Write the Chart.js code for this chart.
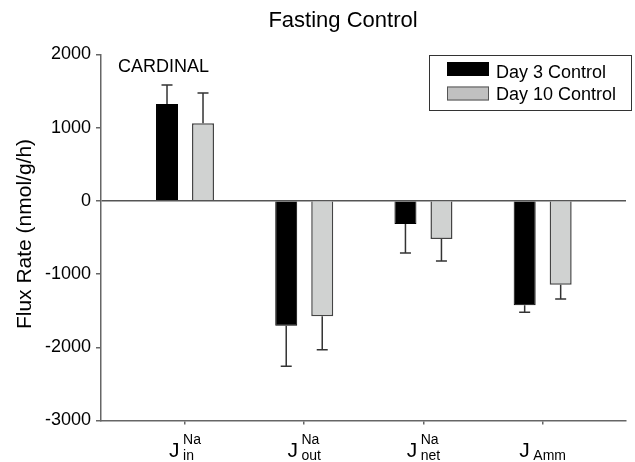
<!DOCTYPE html>
<html>
<head>
<meta charset="utf-8">
<script src="https://cdn.jsdelivr.net/npm/chart.js@4/dist/chart.umd.min.js"></script>
<style>
  html, body { margin: 0; padding: 0; background: #fff; }
  #wrap { width: 635px; height: 462px; }
</style>
</head>
<body>
<div id="wrap"><canvas id="c" width="635" height="462"></canvas></div>
<script>
// ---- data ----
const categoryPos = [1, 2, 3, 4];
const labelMain = ['J', 'J', 'J', 'J'];
const labelSup = ['Na', 'Na', 'Na', ''];
const labelSub = ['in', 'out', 'net', 'Amm'];
const seriesNames = ['Day 3 Control', 'Day 10 Control'];
const day3 = [1320, -1705, -318, -1428];
const day3Err = [260, 555, 395, 95];
const day10 = [1060, -1578, -522, -1146];
const day10Err = [410, 455, 300, 195];
const yTicks = [-3000, -2000, -1000, 0, 1000, 2000];
const titleText = 'Fasting Control';
const yTitle = 'Flux Rate (nmol/g/h)';
const noteText = 'CARDINAL';

const FONT = '"Liberation Sans", Arial, Helvetica, sans-serif';
const errs = [day3Err, day10Err];

const decor = {
  id: 'decor',
  afterDatasetsDraw(chart) {
    const ctx = chart.ctx;
    const y = chart.scales.y;
    ctx.save();
    ctx.strokeStyle = '#333';
    ctx.lineWidth = 1.5;
    chart.data.datasets.forEach((ds, di) => {
      const meta = chart.getDatasetMeta(di);
      meta.data.forEach((bar, i) => {
        const v = ds.data[i].y;
        const e = errs[di][i];
        const end = v >= 0 ? v + e : v - e;
        const y0 = y.getPixelForValue(v);
        const y1 = y.getPixelForValue(end);
        ctx.beginPath();
        ctx.moveTo(bar.x, y0);
        ctx.lineTo(bar.x, y1);
        ctx.moveTo(bar.x - 5.5, y1);
        ctx.lineTo(bar.x + 5.5, y1);
        ctx.stroke();
      });
    });
    ctx.restore();
  },
  afterDraw(chart) {
    const ctx = chart.ctx;
    const x = chart.scales.x;
    ctx.save();
    ctx.fillStyle = '#000';
    // title
    ctx.font = '22px ' + FONT;
    ctx.textAlign = 'center';
    ctx.textBaseline = 'alphabetic';
    ctx.fillText(titleText, 343, 27);
    // note
    ctx.font = '18px ' + FONT;
    ctx.textAlign = 'left';
    ctx.fillText(noteText, 118, 72);
    // y title
    ctx.save();
    ctx.translate(31, 234);
    ctx.rotate(-Math.PI / 2);
    ctx.font = '21px ' + FONT;
    ctx.textAlign = 'center';
    ctx.fillText(yTitle, 0, 0);
    ctx.restore();
    // x labels
    categoryPos.forEach((p, i) => {
      const cx = x.getPixelForValue(p);
      ctx.font = '21px ' + FONT;
      const wJ = ctx.measureText(labelMain[i]).width;
      ctx.font = '14px ' + FONT;
      const wSup = ctx.measureText(labelSup[i]).width;
      const wSub = ctx.measureText(labelSub[i]).width;
      const gap = 3.5;
      const w = wJ + gap + Math.max(wSup, wSub);
      const sx = cx - w / 2;
      ctx.textAlign = 'left';
      ctx.font = '21px ' + FONT;
      ctx.fillText(labelMain[i], sx, 457);
      ctx.font = '14px ' + FONT;
      if (labelSup[i]) ctx.fillText(labelSup[i], sx + wJ + gap, 443.5);
      ctx.fillText(labelSub[i], sx + wJ + gap, 460);
    });
    // legend
    ctx.strokeStyle = '#333';
    ctx.lineWidth = 1;
    ctx.strokeRect(429.5, 55.5, 202, 55);
    const sw = [{fill: '#000', stroke: '#000'}, {fill: '#c0c0c0', stroke: '#555'}];
    const ly = [62, 86.5];
    const tb = [77.5, 99.5];
    seriesNames.forEach((n, i) => {
      ctx.fillStyle = sw[i].fill;
      ctx.fillRect(447, ly[i], 42, 14);
      ctx.strokeStyle = sw[i].stroke;
      ctx.strokeRect(447.5, ly[i] + 0.5, 41, 13);
      ctx.fillStyle = '#000';
      ctx.font = '18px ' + FONT;
      ctx.fillText(n, 496, tb[i]);
    });
    ctx.restore();
  }
};

new Chart(document.getElementById('c'), {
  type: 'bar',
  data: {
    datasets: [
      {
        label: seriesNames[0],
        data: categoryPos.map((p, i) => ({x: p, y: day3[i]})),
        backgroundColor: '#000',
        borderColor: '#000',
        borderWidth: 1
      },
      {
        label: seriesNames[1],
        data: categoryPos.map((p, i) => ({x: p, y: day10[i]})),
        backgroundColor: '#d0d2d1',
        borderColor: '#444',
        borderWidth: 1.5
      }
    ]
  },
  options: {
    responsive: false,
    animation: false,
    devicePixelRatio: 1,
    categoryPercentage: 0.604,
    barPercentage: 0.611,
    layout: { padding: { left: 0, right: 9, top: 54.3, bottom: 0 } },
    plugins: { legend: { display: false }, title: { display: false }, tooltip: { enabled: false } },
    scales: {
      x: {
        type: 'linear',
        offset: false,
        grace: 0,
        min: 0.2953,
        max: 4.699,
        afterFit: (s) => { s.height = 41.5; },
        afterBuildTicks: (s) => { s.ticks = categoryPos.map(v => ({value: v})); },
        ticks: { callback: () => '', font: { size: 1 } },
        grid: { display: true, drawOnChartArea: false, drawTicks: true, tickLength: 4, color: '#666', lineWidth: 1.5, offset: false },
        border: { display: true, color: '#666', width: 1.5 }
      },
      y: {
        min: -3000,
        max: 2000,
        afterFit: (s) => { s.width = 101; },
        afterBuildTicks: (s) => { s.ticks = yTicks.map(v => ({value: v})); },
        ticks: { color: '#000', padding: 5, font: { family: FONT, size: 18 }, callback: (v) => String(v) },
        grid: {
          drawTicks: true,
          tickLength: 5,
          color: (c) => (c.tick && c.tick.value === 0) ? '#555' : 'rgba(0,0,0,0)',
          tickColor: '#666',
          lineWidth: 1.5
        },
        border: { display: true, color: '#666', width: 1.5 }
      }
    }
  },
  plugins: [decor]
});
</script>
</body>
</html>
